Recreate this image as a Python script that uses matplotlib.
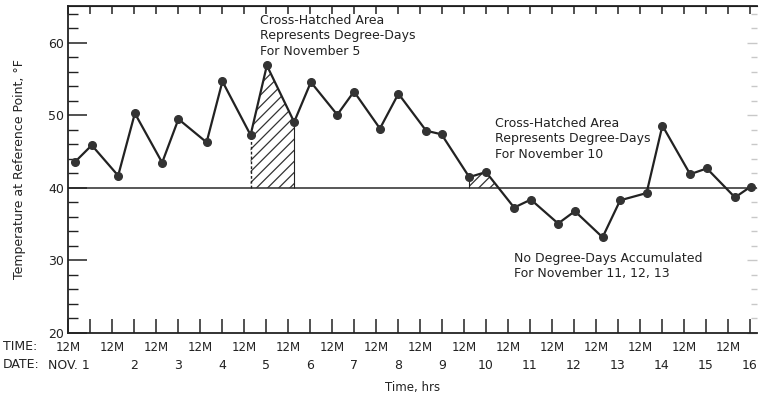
import matplotlib.pyplot as plt
import numpy as np

# reading times (days after midnight, Nov 1) and temperatures, deg F
days = [0.16, 0.54, 1.14, 1.52, 2.14, 2.51, 3.15, 3.51, 4.15, 4.52, 5.14,
        5.52, 6.12, 6.50, 7.09, 7.51, 8.14, 8.49, 9.12, 9.50, 10.14, 10.52,
        11.14, 11.52, 12.15, 12.55, 13.15, 13.51, 14.14, 14.52, 15.16, 15.52]
temps = [43.6, 45.9, 41.7, 50.3, 43.5, 49.5, 46.3, 54.7, 47.3, 56.9, 49.1,
         54.6, 50.1, 53.3, 48.2, 53.0, 47.9, 47.4, 41.5, 42.2, 37.3, 38.4,
         35.1, 36.8, 33.2, 38.3, 39.3, 48.6, 41.9, 42.7, 38.7, 40.2]
base_temp = 40

midnight_labels = ['12M'] * 16
date_labels = ['NOV. 1'] + [str(d) for d in range(2, 17)]

t = np.array(days)
T = np.array(temps)
ink = '#222222'
plt.rcParams['hatch.linewidth'] = 0.9

fig = plt.figure(figsize=(7.59, 3.96), dpi=100)
ax = fig.add_axes([68 / 759, 1 - 333 / 396, (757 - 68) / 759, (333 - 6) / 396])

ax.axhline(base_temp, color='#4a4a4a', lw=1.3, zorder=1)

# degree-day area for Nov 5 (between readings 9 and 11)
a, b = 8, 10
ax.fill_between(t[a:b + 1], base_temp, T[a:b + 1], facecolor='none',
                edgecolor='#333333', hatch='///', lw=0, zorder=2)
ax.vlines(t[a], base_temp, T[a], colors=ink, lw=1.0, linestyles=(0, (2, 1.5)), zorder=2)
ax.vlines(t[b], base_temp, T[b], colors=ink, lw=0.8, zorder=2)

# degree-day area for Nov 10, down to where the curve meets the base
a, b = 18, 20
seg_T = T[a:b + 1]
ax.fill_between(t[a:b + 1], base_temp, seg_T, where=seg_T >= base_temp,
                interpolate=True, facecolor='none', edgecolor='#333333',
                hatch='///', lw=0, zorder=2)
ax.vlines(t[a], base_temp, T[a], colors=ink, lw=0.8, zorder=2)

ax.plot(t, T, color=ink, lw=1.6, marker='o', ms=5.5, mfc='#333333',
        mec='#333333', zorder=3)

ax.set_xlim(0, 15.66)
ax.set_ylim(20, 65.1)

for side in ['left', 'bottom', 'top']:
    ax.spines[side].set_linewidth(1.3)
    ax.spines[side].set_color(ink)
ax.spines['right'].set_visible(False)

ax.set_xticks(np.arange(16), midnight_labels)
ax.set_xticks(np.arange(16) + 0.5, date_labels, minor=True)
ax.tick_params(axis='x', which='both', direction='in', length=10, width=1.1,
               color=ink, labelsize=8.5, labelcolor=ink)
ax.tick_params(axis='x', which='major', pad=6)
ax.tick_params(axis='x', which='minor', pad=19, labelsize=9)
first = ax.get_xticklabels(minor=True)[0]
first.set_ha('right')

ax.set_yticks([20, 30, 40, 50, 60])
ax.set_yticks(np.arange(20, 65, 2), minor=True)
ax.tick_params(axis='y', which='major', direction='in', length=14, width=1.1,
               color=ink, labelsize=9, labelcolor=ink, pad=3)
ax.tick_params(axis='y', which='minor', direction='in', length=7, width=1.0,
               color=ink)

top = ax.secondary_xaxis('top')
top.set_xticks(np.arange(0, 16, 0.5))
top.tick_params(direction='in', length=6, width=1.1, color=ink, labeltop=False)

right = ax.secondary_yaxis('right')
right.set_yticks([20, 30, 40, 50, 60])
right.set_yticks(np.arange(20, 65, 2), minor=True)
right.spines['right'].set_visible(False)
right.tick_params(which='major', direction='in', length=7, width=1.0,
                  color='#c8c8c8', labelright=False)
right.tick_params(which='minor', direction='in', length=4, width=1.0,
                  color='#c8c8c8')

ax.set_ylabel('Temperature at Reference Point, \u00b0F', fontsize=9,
              color=ink, labelpad=16)
ax.set_xlabel('Time, hrs', fontsize=8.5, color=ink, labelpad=6)

fig.text(3 / 759, 1 - 346 / 396, 'TIME:', va='center', fontsize=9, color=ink)
fig.text(3 / 759, 1 - 364 / 396, 'DATE:', va='center', fontsize=9, color=ink)

note = dict(fontsize=9, color=ink, va='top', ha='left', linespacing=1.25)
ax.text(4.36, 64.0, 'Cross-Hatched Area\nRepresents Degree-Days\nFor November 5', **note)
ax.text(9.70, 49.8, 'Cross-Hatched Area\nRepresents Degree-Days\nFor November 10', **note)
ax.text(10.14, 31.2, 'No Degree-Days Accumulated\nFor November 11, 12, 13', **note)

fig.savefig('out.png', dpi=100)
